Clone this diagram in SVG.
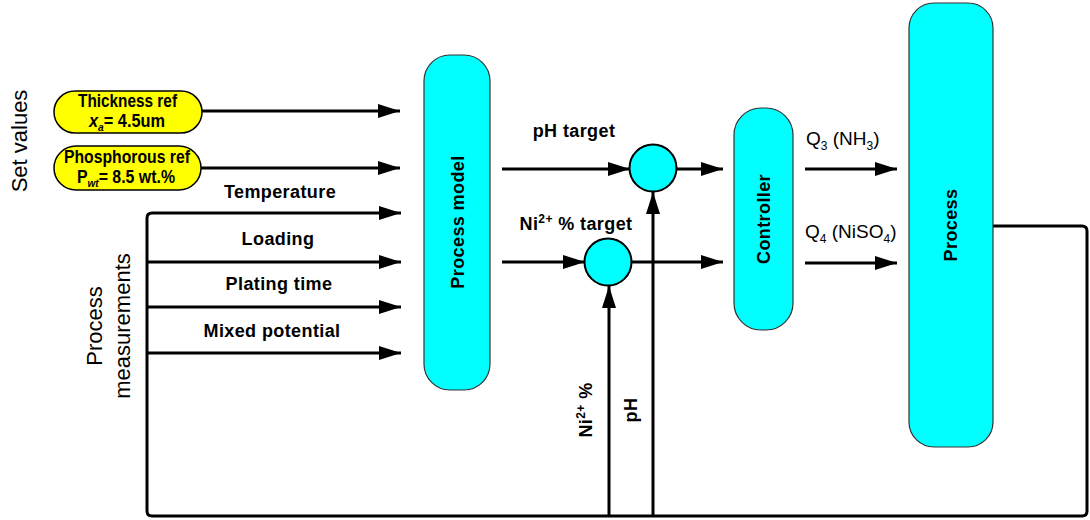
<svg xmlns="http://www.w3.org/2000/svg" width="1090" height="520" viewBox="0 0 1090 520">
<style>
.b{font-family:"Liberation Sans",Arial,sans-serif;font-weight:bold;font-size:18px;fill:#000;letter-spacing:0.4px}
.r{font-family:"Liberation Sans",Arial,sans-serif;font-size:22px;fill:#000}
.q{font-family:"Liberation Sans",Arial,sans-serif;font-size:19px;fill:#000}
.pill{fill:#ffff00;stroke:#000;stroke-width:1.5}
.box{fill:#00ffff;stroke:#333;stroke-width:1.2}
.sum{fill:#00ffff;stroke:#000;stroke-width:2}
.c{fill:none;stroke:#000;stroke-width:3}
.pt{font-family:"Liberation Sans",Arial,sans-serif;font-weight:bold;font-size:17.5px;fill:#000}
</style>
<defs>
<marker id="ah" markerWidth="22" markerHeight="14" refX="22" refY="7" orient="auto" markerUnits="userSpaceOnUse">
<path d="M0,0 L22,7 L0,14 z" fill="#000"/>
</marker>
</defs>
<rect width="1090" height="520" fill="#fff"/>

<text class="r" transform="translate(27,141) rotate(-90)" text-anchor="middle">Set values</text>
<text class="r" transform="translate(102,326) rotate(-90)" text-anchor="middle">Process</text>
<text class="r" transform="translate(130,326) rotate(-90)" text-anchor="middle">measurements</text>

<g id="connectors">
<path class="c" d="M202,111 H400" marker-end="url(#ah)"/>
<path class="c" d="M200,168 H400" marker-end="url(#ah)"/>
<path class="c" d="M993,226 H1082 Q1087,226 1087,231 V511 Q1087,516 1082,516 H152 Q147,516 147,511 V218 Q147,213 152,213 H401" marker-end="url(#ah)"/>
<path class="c" d="M147,262 H401" marker-end="url(#ah)"/>
<path class="c" d="M147,307 H401" marker-end="url(#ah)"/>
<path class="c" d="M147,353 H401" marker-end="url(#ah)"/>
<path class="c" d="M502,169 H630" marker-end="url(#ah)"/>
<path class="c" d="M677,169 H723" marker-end="url(#ah)"/>
<path class="c" d="M502,262 H585" marker-end="url(#ah)"/>
<path class="c" d="M632,262 H723" marker-end="url(#ah)"/>
<path class="c" d="M653,516 V192" marker-end="url(#ah)"/>
<path class="c" d="M609,516 V286" marker-end="url(#ah)"/>
<path class="c" d="M805,169 H897" marker-end="url(#ah)"/>
<path class="c" d="M805,263 H897" marker-end="url(#ah)"/>
</g>

<g id="thickness-ref">
<rect class="pill" x="54" y="91" width="148" height="42" rx="21"/>
<text class="pt" x="78" y="107" textLength="99" lengthAdjust="spacingAndGlyphs">Thickness ref</text>
<text class="pt" x="89" y="127" textLength="76" lengthAdjust="spacingAndGlyphs"><tspan font-style="italic">x</tspan><tspan font-style="italic" font-size="11" dy="4">a</tspan><tspan dy="-4">= 4.5um</tspan></text>
</g>
<g id="phosphorous-ref">
<rect class="pill" x="54" y="146" width="147" height="44" rx="22"/>
<text class="pt" x="64" y="163" textLength="126" lengthAdjust="spacingAndGlyphs">Phosphorous ref</text>
<text class="pt" x="77" y="183" textLength="98" lengthAdjust="spacingAndGlyphs">P<tspan font-style="italic" font-size="11" dy="4">wt</tspan><tspan dy="-4">= 8.5 wt.%</tspan></text>
</g>

<g id="labels">
<text class="b" x="280" y="198" text-anchor="middle">Temperature</text>
<text class="b" x="278" y="245" text-anchor="middle">Loading</text>
<text class="b" x="279" y="290" text-anchor="middle">Plating time</text>
<text class="b" x="272" y="337" text-anchor="middle">Mixed potential</text>
<text class="b" x="574" y="137" text-anchor="middle">pH target</text>
<text class="b" x="576" y="230" text-anchor="middle">Ni<tspan font-size="12" dy="-7">2+</tspan><tspan dy="7"> % target</tspan></text>
<text class="b" transform="translate(592,410) rotate(-90)" text-anchor="middle">Ni<tspan font-size="12" dy="-7">2+</tspan><tspan dy="7"> %</tspan></text>
<text class="b" transform="translate(637,410) rotate(-90)" text-anchor="middle">pH</text>
<text class="q" x="806" y="145">Q<tspan font-size="12" dy="5">3</tspan><tspan dy="-5"> (NH</tspan><tspan font-size="12" dy="5">3</tspan><tspan dy="-5">)</tspan></text>
<text class="q" x="805" y="238">Q<tspan font-size="12" dy="5">4</tspan><tspan dy="-5"> (NiSO</tspan><tspan font-size="12" dy="5">4</tspan><tspan dy="-5">)</tspan></text>
</g>

<g id="process-model">
<rect class="box" x="424" y="55" width="66" height="335" rx="26"/>
<text class="b" transform="translate(464,222) rotate(-90)" text-anchor="middle">Process model</text>
</g>
<g id="sum-ph">
<circle class="sum" cx="653" cy="168" r="23.5"/>
</g>
<g id="sum-ni">
<circle class="sum" cx="608" cy="262" r="23.5"/>
</g>
<g id="controller">
<rect class="box" x="734" y="108" width="59" height="222" rx="27"/>
<text class="b" transform="translate(770,219) rotate(-90)" text-anchor="middle">Controller</text>
</g>
<g id="process">
<rect class="box" x="909" y="3" width="84" height="444" rx="25"/>
<text class="b" transform="translate(957,225) rotate(-90)" text-anchor="middle">Process</text>
</g>
</svg>
